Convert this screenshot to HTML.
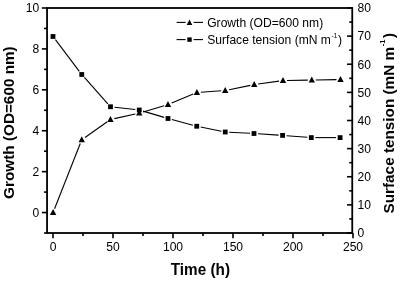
<!DOCTYPE html>
<html><head><meta charset="utf-8"><title>Growth and surface tension</title>
<style>
html,body{margin:0;padding:0;background:#fff;}
svg{display:block;filter:grayscale(1);font-family:"Liberation Sans",sans-serif;}
</style></head><body>
<svg width="400" height="281" viewBox="0 0 400 281">
<rect width="400" height="281" fill="#fff"/>
<g stroke="#000" stroke-width="1.8" fill="none" stroke-linecap="square">
<rect x="47.05" y="8.0" width="305.2" height="225.0"/>
</g>
<g stroke="#000" stroke-width="1.6" fill="none">
<line x1="44.05" y1="233.00" x2="47.05" y2="233.00"/>
<line x1="41.85" y1="212.55" x2="47.05" y2="212.55"/>
<line x1="44.05" y1="192.09" x2="47.05" y2="192.09"/>
<line x1="41.85" y1="171.64" x2="47.05" y2="171.64"/>
<line x1="44.05" y1="151.18" x2="47.05" y2="151.18"/>
<line x1="41.85" y1="130.73" x2="47.05" y2="130.73"/>
<line x1="44.05" y1="110.27" x2="47.05" y2="110.27"/>
<line x1="41.85" y1="89.82" x2="47.05" y2="89.82"/>
<line x1="44.05" y1="69.36" x2="47.05" y2="69.36"/>
<line x1="41.85" y1="48.91" x2="47.05" y2="48.91"/>
<line x1="44.05" y1="28.45" x2="47.05" y2="28.45"/>
<line x1="41.85" y1="8.00" x2="47.05" y2="8.00"/>
<line x1="347.05" y1="233.00" x2="352.25" y2="233.00"/>
<line x1="349.25" y1="218.94" x2="352.25" y2="218.94"/>
<line x1="347.05" y1="204.88" x2="352.25" y2="204.88"/>
<line x1="349.25" y1="190.81" x2="352.25" y2="190.81"/>
<line x1="347.05" y1="176.75" x2="352.25" y2="176.75"/>
<line x1="349.25" y1="162.69" x2="352.25" y2="162.69"/>
<line x1="347.05" y1="148.62" x2="352.25" y2="148.62"/>
<line x1="349.25" y1="134.56" x2="352.25" y2="134.56"/>
<line x1="347.05" y1="120.50" x2="352.25" y2="120.50"/>
<line x1="349.25" y1="106.44" x2="352.25" y2="106.44"/>
<line x1="347.05" y1="92.38" x2="352.25" y2="92.38"/>
<line x1="349.25" y1="78.31" x2="352.25" y2="78.31"/>
<line x1="347.05" y1="64.25" x2="352.25" y2="64.25"/>
<line x1="349.25" y1="50.19" x2="352.25" y2="50.19"/>
<line x1="347.05" y1="36.12" x2="352.25" y2="36.12"/>
<line x1="349.25" y1="22.06" x2="352.25" y2="22.06"/>
<line x1="347.05" y1="8.00" x2="352.25" y2="8.00"/>
<line x1="53.00" y1="233.0" x2="53.00" y2="238.20"/>
<line x1="83.00" y1="233.0" x2="83.00" y2="236.00"/>
<line x1="113.00" y1="233.0" x2="113.00" y2="238.20"/>
<line x1="143.00" y1="233.0" x2="143.00" y2="236.00"/>
<line x1="173.00" y1="233.0" x2="173.00" y2="238.20"/>
<line x1="203.00" y1="233.0" x2="203.00" y2="236.00"/>
<line x1="233.00" y1="233.0" x2="233.00" y2="238.20"/>
<line x1="263.00" y1="233.0" x2="263.00" y2="236.00"/>
<line x1="293.00" y1="233.0" x2="293.00" y2="238.20"/>
<line x1="323.00" y1="233.0" x2="323.00" y2="236.00"/>
<line x1="353.00" y1="233.0" x2="353.00" y2="238.20"/>
</g>
<g font-size="12.1" fill="#000">
<text transform="translate(39.3,216.90) scale(1,1.04)" text-anchor="end">0</text>
<text transform="translate(39.3,175.99) scale(1,1.04)" text-anchor="end">2</text>
<text transform="translate(39.3,135.08) scale(1,1.04)" text-anchor="end">4</text>
<text transform="translate(39.3,94.17) scale(1,1.04)" text-anchor="end">6</text>
<text transform="translate(39.3,53.26) scale(1,1.04)" text-anchor="end">8</text>
<text transform="translate(39.3,12.35) scale(1,1.04)" text-anchor="end">10</text>
<text transform="translate(357.6,237.35) scale(1,1.04)">0</text>
<text transform="translate(357.6,209.22) scale(1,1.04)">10</text>
<text transform="translate(357.6,181.10) scale(1,1.04)">20</text>
<text transform="translate(357.6,152.97) scale(1,1.04)">30</text>
<text transform="translate(357.6,124.85) scale(1,1.04)">40</text>
<text transform="translate(357.6,96.72) scale(1,1.04)">50</text>
<text transform="translate(357.6,68.60) scale(1,1.04)">60</text>
<text transform="translate(357.6,40.48) scale(1,1.04)">70</text>
<text transform="translate(357.6,12.35) scale(1,1.04)">80</text>
<text transform="translate(53.00,250.8) scale(1,1.04)" text-anchor="middle">0</text>
<text transform="translate(113.00,250.8) scale(1,1.04)" text-anchor="middle">50</text>
<text transform="translate(173.00,250.8) scale(1,1.04)" text-anchor="middle">100</text>
<text transform="translate(233.00,250.8) scale(1,1.04)" text-anchor="middle">150</text>
<text transform="translate(293.00,250.8) scale(1,1.04)" text-anchor="middle">200</text>
<text transform="translate(353.00,250.8) scale(1,1.04)" text-anchor="middle">250</text>
</g>
<g stroke="#000" stroke-width="1.1" fill="none">
<line x1="54.57" y1="208.78" x2="80.28" y2="143.57"/>
<line x1="85.01" y1="137.54" x2="107.24" y2="121.81"/>
<line x1="114.40" y1="118.63" x2="135.35" y2="113.97"/>
<line x1="143.09" y1="111.97" x2="164.16" y2="105.73"/>
<line x1="171.69" y1="103.06" x2="193.21" y2="94.04"/>
<line x1="200.89" y1="92.22" x2="221.21" y2="90.78"/>
<line x1="229.12" y1="89.70" x2="250.33" y2="85.40"/>
<line x1="258.21" y1="84.05" x2="279.04" y2="81.15"/>
<line x1="287.00" y1="80.53" x2="307.75" y2="80.17"/>
<line x1="315.75" y1="80.03" x2="336.50" y2="79.67"/>
<line x1="55.41" y1="39.69" x2="79.34" y2="71.31"/>
<line x1="84.41" y1="77.49" x2="107.84" y2="103.76"/>
<line x1="114.47" y1="107.20" x2="135.28" y2="109.55"/>
<line x1="143.09" y1="111.13" x2="164.16" y2="117.37"/>
<line x1="171.86" y1="119.54" x2="192.89" y2="125.21"/>
<line x1="200.67" y1="127.04" x2="221.33" y2="131.21"/>
<line x1="229.24" y1="132.21" x2="250.01" y2="133.29"/>
<line x1="257.99" y1="133.77" x2="278.61" y2="135.13"/>
<line x1="286.59" y1="135.71" x2="307.31" y2="137.29"/>
<line x1="315.30" y1="137.60" x2="336.10" y2="137.60"/>
<line x1="176.6" y1="22.4" x2="185.6" y2="22.4"/><line x1="193.6" y1="22.4" x2="203" y2="22.4"/>
<line x1="176.6" y1="39.6" x2="185.6" y2="39.6"/><line x1="193.6" y1="39.6" x2="203" y2="39.6"/>
</g>
<g fill="#000">
<polygon points="53.10,208.90 56.30,214.90 49.90,214.90"/>
<polygon points="81.75,136.25 84.95,142.25 78.55,142.25"/>
<polygon points="110.50,115.90 113.70,121.90 107.30,121.90"/>
<polygon points="139.25,109.50 142.45,115.50 136.05,115.50"/>
<polygon points="168.00,101.00 171.20,107.00 164.80,107.00"/>
<polygon points="196.90,88.90 200.10,94.90 193.70,94.90"/>
<polygon points="225.20,86.90 228.40,92.90 222.00,92.90"/>
<polygon points="254.25,81.00 257.45,87.00 251.05,87.00"/>
<polygon points="283.00,77.00 286.20,83.00 279.80,83.00"/>
<polygon points="311.75,76.50 314.95,82.50 308.55,82.50"/>
<polygon points="340.50,76.00 343.70,82.00 337.30,82.00"/>
<rect x="50.60" y="34.10" width="4.8" height="4.8"/>
<rect x="79.35" y="72.10" width="4.8" height="4.8"/>
<rect x="108.10" y="104.35" width="4.8" height="4.8"/>
<rect x="136.85" y="107.60" width="4.8" height="4.8"/>
<rect x="165.60" y="116.10" width="4.8" height="4.8"/>
<rect x="194.35" y="123.85" width="4.8" height="4.8"/>
<rect x="222.85" y="129.60" width="4.8" height="4.8"/>
<rect x="251.60" y="131.10" width="4.8" height="4.8"/>
<rect x="280.20" y="133.00" width="4.8" height="4.8"/>
<rect x="308.90" y="135.20" width="4.8" height="4.8"/>
<rect x="337.70" y="135.20" width="4.8" height="4.8"/>
<polygon points="189.50,19.50 192.30,24.90 186.70,24.90"/>
<rect x="187.30" y="37.40" width="4.4" height="4.4"/>
</g>
<g font-size="12.1" fill="#000">
<text transform="translate(207.2,26.6) scale(1,1.025)">Growth (OD=600 nm)</text>
<text transform="translate(207.2,43.8) scale(1,1.025)">Surface tension (mN m<tspan font-size="6.5" dy="-6.1" dx="0.6">-1</tspan><tspan dy="6.1" dx="0.6">)</tspan></text>
</g>
<g font-size="15.3" font-weight="bold" fill="#000" text-anchor="middle">
<text transform="translate(200.4,275) scale(1,1.025)">Time (h)</text>
<text transform="translate(13.8,122.6) rotate(-90)">Growth (OD=600 nm)</text>
<text transform="translate(393.6,123.2) rotate(-90)">Surface tension (mN m<tspan font-size="7.7" dy="-8.2" dx="0.5">-1</tspan><tspan dy="8.2" dx="1.5">)</tspan></text>
</g>
</svg>
</body></html>
